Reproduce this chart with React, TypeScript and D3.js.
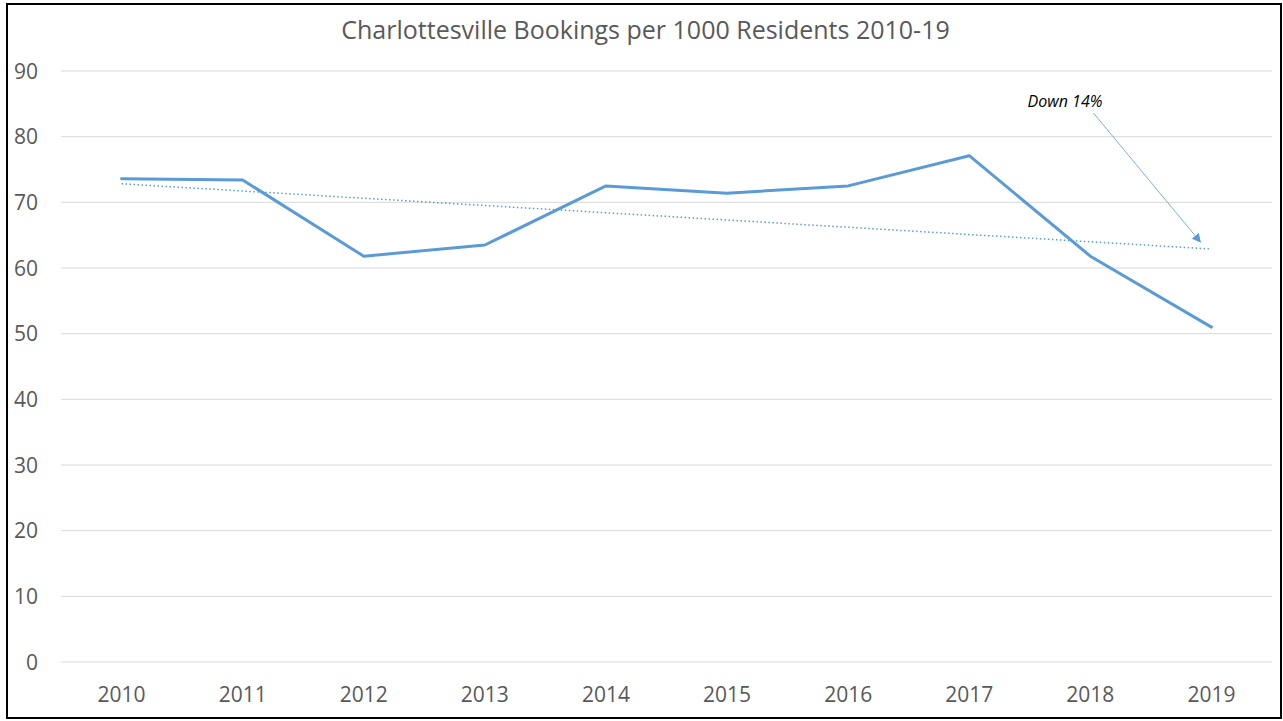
import React from "react";
import * as d3 from "d3";

const years = ["2010", "2011", "2012", "2013", "2014", "2015", "2016", "2017", "2018", "2019"];
const bookings = [73.6, 73.4, 61.8, 63.5, 72.5, 71.4, 72.5, 77.1, 61.8, 51.0];
const yTicks = [0, 10, 20, 30, 40, 50, 60, 70, 80, 90];
const title = "Charlottesville Bookings per 1000 Residents 2010-19";
const annotation = "Down 14%";

const W = 1283;
const H = 721;
const plot = { left: 61, right: 1272, top: 71, bottom: 662 };
const FONT = "'Open Sans', 'Liberation Sans', sans-serif";

export default function App() {
  const x = d3.scaleBand<string>().domain(years).range([plot.left, plot.right]);
  const cx = (d: string) => (x(d) as number) + x.bandwidth() / 2;
  const y = d3.scaleLinear().domain([0, 90]).range([plot.bottom, plot.top]);

  const pts: [number, number][] = bookings.map((v, i) => [cx(years[i]), y(v)]);
  const line = d3.line<[number, number]>();

  // linear trendline (least squares over index)
  const n = bookings.length;
  const idx = bookings.map((_, i) => i);
  const mx = d3.mean(idx) as number;
  const my = d3.mean(bookings) as number;
  const slope =
    d3.sum(idx.map((i) => (i - mx) * (bookings[i] - my))) /
    d3.sum(idx.map((i) => (i - mx) * (i - mx)));
  const intercept = my - slope * mx;
  const t0 = intercept;
  const t1 = intercept + slope * (n - 1);

  const lastX = cx(years[n - 1]);
  const arrowEnd: [number, number] = [lastX - 11, y(t1) - 7];
  const arrowStart: [number, number] = [lastX - 118, 113];

  return (
    <svg width={W} height={H} style={{ display: "block", position: "absolute", left: 0, top: 0 }}>
      <defs>
        <marker id="ah" viewBox="0 0 10 10" refX="9" refY="5" markerWidth="9" markerHeight="9" orient="auto" markerUnits="userSpaceOnUse">
          <path d="M0,0 L10,5 L0,10 z" fill="#5B9BD5" />
        </marker>
      </defs>
      <rect x={0} y={0} width={W} height={H} fill="#ffffff" />
      <rect x={7} y={4} width={1274} height={714} fill="none" stroke="#000" strokeWidth={2} />
      <text x={645.5} y={39} textAnchor="middle" fontFamily={FONT} fontSize={25} fill="#595959">
        {title}
      </text>
      {yTicks.map((t) => (
        <g key={t}>
          <line x1={plot.left} x2={plot.right} y1={y(t)} y2={y(t)} stroke="#D9D9D9" strokeWidth={1} />
          <text x={38} y={y(t) + 7.5} textAnchor="end" fontFamily={FONT} fontSize={21} fill="#595959">
            {t}
          </text>
        </g>
      ))}
      {years.map((yr) => (
        <text key={yr} x={cx(yr)} y={701.5} textAnchor="middle" fontFamily={FONT} fontSize={21} fill="#595959">
          {yr}
        </text>
      ))}
      <line
        x1={cx(years[0])}
        x2={lastX}
        y1={y(t0)}
        y2={y(t1)}
        stroke="#5B9BD5"
        strokeWidth={1.5}
        strokeDasharray="1.5 2.5"
      />
      <path d={line(pts) as string} fill="none" stroke="#5B9BD5" strokeWidth={3} strokeLinejoin="round" strokeLinecap="round" />
      <line
        x1={arrowStart[0]}
        y1={arrowStart[1]}
        x2={arrowEnd[0]}
        y2={arrowEnd[1]}
        stroke="#5B9BD5"
        strokeWidth={0.8}
        markerEnd="url(#ah)"
      />
      <text x={1065} y={106.5} textAnchor="middle" fontFamily={FONT} fontSize={16} fontStyle="italic" fill="#000">
        {annotation}
      </text>
    </svg>
  );
}
